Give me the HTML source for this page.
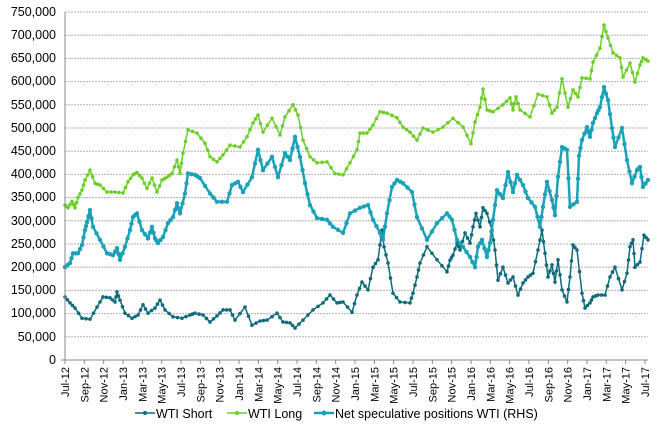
<!DOCTYPE html>
<html><head><meta charset="utf-8"><style>
body{margin:0;background:#fff;}
svg{display:block;font-family:"Liberation Sans",Arial,sans-serif;}
</style></head><body>
<svg id="c" width="666" height="435" xmlns="http://www.w3.org/2000/svg">
<g id="grid" stroke="#b0b0b0" stroke-width="1" stroke-dasharray="2,1"></g>
<g id="ylab" font-size="12.5" fill="#000" text-anchor="end">
<text x="56" y="16">750,000</text><text x="56" y="39">700,000</text><text x="56" y="62">650,000</text><text x="56" y="85">600,000</text><text x="56" y="109">550,000</text><text x="56" y="132">500,000</text><text x="56" y="155">450,000</text><text x="56" y="178">400,000</text><text x="56" y="201">350,000</text><text x="56" y="225">300,000</text><text x="56" y="248">250,000</text><text x="56" y="271">200,000</text><text x="56" y="294">150,000</text><text x="56" y="317">100,000</text><text x="56" y="341">50,000</text><text x="56" y="364">0</text>
</g>
<g id="xlab" font-size="11" fill="#000"></g>
<g id="series"></g>
<line x1="65" y1="12" x2="65" y2="360" stroke="#888" stroke-width="1"/>
<line x1="61" y1="360" x2="648" y2="360" stroke="#888" stroke-width="1"/>
<g font-size="12.5" fill="#000">
<line x1="135" y1="413" x2="155" y2="413" stroke="#0E6B7A" stroke-width="1.5"/><circle cx="145" cy="413" r="2" fill="#0E6B7A"/>
<text x="156" y="418">WTI Short</text>
<line x1="227" y1="413" x2="247" y2="413" stroke="#6CCF28" stroke-width="1.5"/><circle cx="237" cy="413" r="2" fill="#6CCF28"/>
<text x="248" y="418">WTI Long</text>
<line x1="314" y1="413" x2="334" y2="413" stroke="#1BA1B8" stroke-width="2.5"/><circle cx="324" cy="413" r="2.5" fill="#1BA1B8"/>
<text x="335" y="418">Net speculative positions WTI (RHS)</text>
</g>
</svg>
<script>
var NS="http://www.w3.org/2000/svg";
function Y(v){return 360-v*0.464;}
var g=document.getElementById('grid');
for(var k=1;k<=15;k++){var y=360-k*23.2;var l=document.createElementNS(NS,'line');l.setAttribute('x1',65);l.setAttribute('x2',648);l.setAttribute('y1',y);l.setAttribute('y2',y);g.appendChild(l);}
var m=['Jul','Sep','Nov','Jan','Mar','May'];
var xl=document.getElementById('xlab');
for(var i=0;i<=30;i++){var x=65+i*19.333;var mi=i%6;var yr=12+Math.floor((i+3)/6);
var t=document.createElementNS(NS,'line');t.setAttribute('x1',x);t.setAttribute('x2',x);t.setAttribute('y1',360);t.setAttribute('y2',364);t.setAttribute('stroke','#888');xl.appendChild(t);
var tx=document.createElementNS(NS,'text');tx.setAttribute('transform','translate('+(x+4)+',367) rotate(-90)');tx.setAttribute('text-anchor','end');tx.textContent=m[mi]+'-'+yr;xl.appendChild(tx);}
var L=[65,334,68,328,72,342,75,328,78,350,82,366,85,388,90,409,95,381,100,377,107,362,115,362,123,360,128,384,133,399,137,404,142,392,147,370,152,392,157,362,162,388,167,394,172,402,177,431,180,402,183,446,188,496,197,489,205,467,210,438,217,427,223,442,230,463,240,459,247,481,253,511,258,528,263,491,272,521,280,485,285,524,293,550,298,528,303,474,310,438,317,425,327,427,335,402,343,399,350,425,357,453,360,489,367,489,373,506,380,535,387,532,397,522,403,502,410,491,417,474,423,500,433,491,443,502,453,521,463,502,471,466,475,513,480,545,483,584,487,539,493,535,503,550,510,565,513,539,516,567,520,539,530,524,538,573,547,567,552,532,557,545,562,606,568,545,573,582,578,567,582,608,590,606,593,642,600,672,604,722,608,694,613,662,620,651,623,610,630,640,635,599,640,636,643,651,648,644];
var N=[65,200,70,209,73,230,78,230,82,248,85,280,87,297,90,323,93,287,100,259,107,230,113,226,117,241,120,216,125,244,130,280,133,308,137,316,142,280,148,262,152,287,155,262,158,252,163,265,168,295,173,308,177,338,180,316,185,359,188,402,195,399,200,392,210,359,217,341,227,341,232,377,238,384,243,362,252,394,258,453,263,409,272,438,278,394,285,446,290,431,295,481,300,438,305,381,310,334,317,306,327,302,333,287,343,274,350,316,360,328,368,334,373,302,380,274,383,259,387,316,392,373,397,388,403,381,412,362,417,308,427,259,437,295,447,316,452,302,457,259,463,244,470,222,475,200,478,244,482,259,487,222,490,252,493,302,497,366,503,349,508,405,513,362,517,399,523,377,528,349,535,330,540,287,543,330,547,384,552,345,555,312,558,395,562,459,567,453,570,330,577,341,579,440,582,474,587,502,590,481,593,511,597,532,600,545,604,588,608,560,612,500,615,459,622,500,627,431,632,381,637,409,640,416,643,373,648,388];
var S=[65,136,70,123,75,112,82,90,90,88,97,114,103,136,110,134,115,125,117,147,120,129,125,101,132,90,138,97,143,119,148,101,155,112,160,129,165,108,173,93,182,90,190,97,195,101,203,97,210,82,217,95,223,108,230,108,235,86,245,114,252,75,260,84,267,86,277,101,283,82,290,80,295,69,303,86,313,108,323,123,330,140,337,123,343,125,352,103,357,140,362,168,368,151,373,200,378,216,382,280,384,244,388,209,393,144,400,125,410,123,413,144,417,179,420,209,427,244,437,216,447,190,450,215,453,226,457,252,460,237,465,274,470,252,473,287,476,316,480,287,483,328,487,316,492,280,495,237,498,172,503,200,508,166,513,179,518,140,523,166,528,179,533,187,538,237,542,280,545,230,548,179,552,205,555,168,558,216,562,151,567,125,570,179,573,248,577,237,582,144,585,112,590,123,593,136,598,140,605,140,610,179,615,200,622,151,627,187,630,244,633,259,635,200,640,211,644,269,648,259];
function draw(a,col,w,r){var s=document.getElementById('series');var pts=[];for(var i=0;i<a.length;i+=2)pts.push([a[i],Y(a[i+1])]);
var p=document.createElementNS(NS,'polyline');p.setAttribute('points',pts.map(function(q){return q[0]+','+q[1].toFixed(1)}).join(' '));p.setAttribute('fill','none');p.setAttribute('stroke',col);p.setAttribute('stroke-width',w);p.setAttribute('stroke-linejoin','round');s.appendChild(p);
for(var j=0;j<pts.length;j++){var c=document.createElementNS(NS,'circle');c.setAttribute('cx',pts[j][0]);c.setAttribute('cy',pts[j][1]);c.setAttribute('r',r);c.setAttribute('fill',col);s.appendChild(c);
if(j<pts.length-1){var c2=document.createElementNS(NS,'circle');c2.setAttribute('cx',(pts[j][0]+pts[j+1][0])/2);c2.setAttribute('cy',(pts[j][1]+pts[j+1][1])/2);c2.setAttribute('r',r);c2.setAttribute('fill',col);s.appendChild(c2);}}}
draw(S,'#0E6B7A',1.5,1.8);
draw(L,'#6CCF28',1.5,1.8);
draw(N,'#1BA1B8',2.5,2.2);
</script>
</body></html>
